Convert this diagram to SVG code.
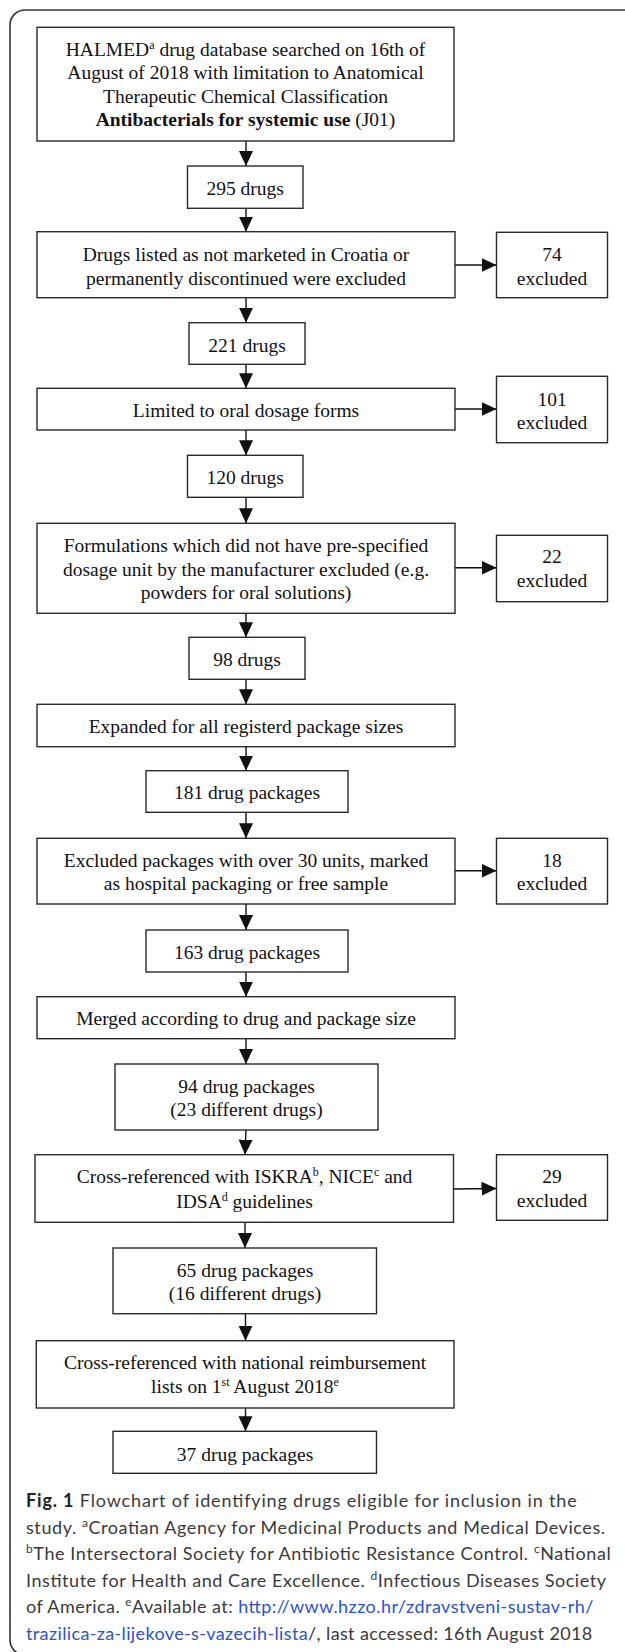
<svg xmlns="http://www.w3.org/2000/svg" width="625" height="1652" viewBox="0 0 625 1652">
<defs>
<style>
.box{fill:#fff;stroke:#2a2a2a;stroke-width:1.4}
.t{font-family:"Liberation Serif","Times New Roman",serif;font-size:19.5px;fill:#111;text-anchor:middle}
.b{font-weight:bold}
.sup{font-size:12px;baseline-shift:super}
.conn{stroke:#111;stroke-width:1.4;fill:none;marker-end:url(#ah)}
.cap{font-family:Lato,"Noto Sans",sans-serif;font-size:18px;fill:#3a3a3a}
.csup{font-size:12px;baseline-shift:super}
.link{fill:#2a52d8}
</style>
<marker id="ah" markerUnits="userSpaceOnUse" markerWidth="15" markerHeight="15" refX="15" refY="7" orient="auto">
<path d="M0,0 L15,7 L0,14 z" fill="#111"/>
</marker>
</defs>
<rect width="625" height="1652" fill="#fff"/>
<path d="M625,10 H25 A15,15 0 0 0 10,25 V1640 A15,15 0 0 0 25,1655" fill="none" stroke="#333" stroke-width="1.6"/>

<g id="connectors">
<line class="conn" x1="246" y1="141" x2="246" y2="166"/>
<line class="conn" x1="246" y1="208.3" x2="246" y2="231.7"/>
<line class="conn" x1="246" y1="297.7" x2="246" y2="322.7"/>
<line class="conn" x1="246" y1="364.3" x2="246" y2="388.3"/>
<line class="conn" x1="246" y1="430" x2="246" y2="455.3"/>
<line class="conn" x1="246" y1="497.3" x2="246" y2="523.3"/>
<line class="conn" x1="246" y1="613.3" x2="246" y2="637.3"/>
<line class="conn" x1="246" y1="679.3" x2="246" y2="704.3"/>
<line class="conn" x1="246" y1="746.7" x2="246" y2="770.7"/>
<line class="conn" x1="246" y1="812.3" x2="246" y2="838.3"/>
<line class="conn" x1="246" y1="904" x2="246" y2="930"/>
<line class="conn" x1="246" y1="972" x2="246" y2="996.7"/>
<line class="conn" x1="246" y1="1038.7" x2="246" y2="1064"/>
<line class="conn" x1="246" y1="1130" x2="245" y2="1154.7"/>
<line class="conn" x1="245" y1="1222.3" x2="245" y2="1248"/>
<line class="conn" x1="245.5" y1="1313.7" x2="245.5" y2="1340.7"/>
<line class="conn" x1="245.5" y1="1408" x2="245.5" y2="1431.3"/>
<line class="conn" x1="455" y1="265" x2="496.5" y2="265"/>
<line class="conn" x1="455" y1="409" x2="496.5" y2="409"/>
<line class="conn" x1="455" y1="567.7" x2="496.5" y2="567.7"/>
<line class="conn" x1="455" y1="870.7" x2="496.5" y2="870.7"/>
<line class="conn" x1="453.5" y1="1189" x2="496.5" y2="1188.5"/>
</g>

<g id="n1">
<rect class="box" x="37" y="27.3" width="417" height="113.7"/>
<text class="t" x="245.5" y="55.5">HALMED<tspan class="sup">a</tspan> drug database searched on 16th of</text>
<text class="t" x="245.5" y="79">August of 2018 with limitation to Anatomical</text>
<text class="t" x="245.5" y="102.5">Therapeutic Chemical Classification</text>
<text class="t" x="245.5" y="126"><tspan class="b">Antibacterials for systemic use</tspan> (J01)</text>
</g>
<g id="n2">
<rect class="box" x="187.5" y="166" width="115.5" height="42.3"/>
<text class="t" x="245.2" y="194.5">295 drugs</text>
</g>
<g id="n3">
<rect class="box" x="37" y="231.7" width="418" height="66"/>
<text class="t" x="246" y="261">Drugs listed as not marketed in Croatia or</text>
<text class="t" x="246" y="284.5">permanently discontinued were excluded</text>
</g>
<g id="e1">
<rect class="box" x="496.5" y="232.3" width="111" height="65.4"/>
<text class="t" x="552" y="261">74</text>
<text class="t" x="552" y="284.5">excluded</text>
</g>
<g id="n4">
<rect class="box" x="189" y="322.7" width="116" height="41.6"/>
<text class="t" x="247" y="351.5">221 drugs</text>
</g>
<g id="n5">
<rect class="box" x="37" y="388.3" width="418" height="41.7"/>
<text class="t" x="246" y="416.5">Limited to oral dosage forms</text>
</g>
<g id="e2">
<rect class="box" x="496.5" y="376.3" width="111" height="66.4"/>
<text class="t" x="552" y="405.5">101</text>
<text class="t" x="552" y="428.5">excluded</text>
</g>
<g id="n6">
<rect class="box" x="187.5" y="455.3" width="115.5" height="42"/>
<text class="t" x="245.2" y="484">120 drugs</text>
</g>
<g id="n7">
<rect class="box" x="37" y="523.3" width="418" height="90"/>
<text class="t" x="246" y="552">Formulations which did not have pre-specified</text>
<text class="t" x="246" y="575.5">dosage unit by the manufacturer excluded (e.g.</text>
<text class="t" x="246" y="599">powders for oral solutions)</text>
</g>
<g id="e3">
<rect class="box" x="496.5" y="535.3" width="111" height="66.4"/>
<text class="t" x="552" y="563">22</text>
<text class="t" x="552" y="586.5">excluded</text>
</g>
<g id="n8">
<rect class="box" x="189" y="637.3" width="116" height="42"/>
<text class="t" x="247" y="666">98 drugs</text>
</g>
<g id="n9">
<rect class="box" x="37" y="704.3" width="418" height="42.4"/>
<text class="t" x="246" y="733">Expanded for all registerd package sizes</text>
</g>
<g id="n10">
<rect class="box" x="146" y="770.7" width="202" height="41.6"/>
<text class="t" x="247" y="798.5">181 drug packages</text>
</g>
<g id="n11">
<rect class="box" x="37" y="838.3" width="418" height="65.7"/>
<text class="t" x="246" y="866.5">Excluded packages with over 30 units, marked</text>
<text class="t" x="246" y="890">as hospital packaging or free sample</text>
</g>
<g id="e4">
<rect class="box" x="496.5" y="838.3" width="111" height="65.7"/>
<text class="t" x="552" y="866.5">18</text>
<text class="t" x="552" y="890">excluded</text>
</g>
<g id="n12">
<rect class="box" x="146" y="930" width="202" height="42"/>
<text class="t" x="247" y="958.5">163 drug packages</text>
</g>
<g id="n13">
<rect class="box" x="37" y="996.7" width="418" height="42"/>
<text class="t" x="246" y="1025">Merged according to drug and package size</text>
</g>
<g id="n14">
<rect class="box" x="115" y="1064" width="263" height="66"/>
<text class="t" x="246.5" y="1092.5">94 drug packages</text>
<text class="t" x="246.5" y="1116">(23 different drugs)</text>
</g>
<g id="n15">
<rect class="box" x="35" y="1154.7" width="418.5" height="67.6"/>
<text class="t" x="244.5" y="1183">Cross-referenced with ISKRA<tspan class="sup">b</tspan>, NICE<tspan class="sup">c</tspan> and</text>
<text class="t" x="244.5" y="1207.5">IDSA<tspan class="sup">d</tspan> guidelines</text>
</g>
<g id="e5">
<rect class="box" x="496.5" y="1154.7" width="111" height="65.6"/>
<text class="t" x="552" y="1182.5">29</text>
<text class="t" x="552" y="1206.5">excluded</text>
</g>
<g id="n16">
<rect class="box" x="113" y="1248" width="263.5" height="65.7"/>
<text class="t" x="245" y="1276.5">65 drug packages</text>
<text class="t" x="245" y="1300">(16 different drugs)</text>
</g>
<g id="n17">
<rect class="box" x="36.3" y="1340.7" width="417.7" height="67.3"/>
<text class="t" x="245" y="1369">Cross-referenced with national reimbursement</text>
<text class="t" x="245" y="1393">lists on 1<tspan class="sup">st</tspan> August 2018<tspan class="sup">e</tspan></text>
</g>
<g id="n18">
<rect class="box" x="113" y="1431.3" width="263.5" height="42"/>
<text class="t" x="245" y="1460.5">37 drug packages</text>
</g>

<g id="caption">
<text class="cap" x="26" y="1507" textLength="550.7"><tspan font-weight="bold" fill="#222">Fig. 1</tspan> Flowchart of identifying drugs eligible for inclusion in the</text>
<text class="cap" x="26" y="1533.5" textLength="579">study. <tspan class="csup">a</tspan>Croatian Agency for Medicinal Products and Medical Devices.</text>
<text class="cap" x="26" y="1560" textLength="584.7"><tspan class="csup">b</tspan>The Intersectoral Society for Antibiotic Resistance Control. <tspan class="csup">c</tspan>National</text>
<text class="cap" x="26" y="1586.5" textLength="580">Institute for Health and Care Excellence. <tspan class="csup">d</tspan>Infectious Diseases Society</text>
<text class="cap" x="26" y="1613" textLength="567.3">of America. <tspan class="csup">e</tspan>Available at: <tspan class="link">http://www.hzzo.hr/zdravstveni-sustav-rh/</tspan></text>
<text class="cap" x="26" y="1639.5" textLength="566.3"><tspan class="link">trazilica-za-lijekove-s-vazecih-lista</tspan>/, last accessed: 16th August 2018</text>
</g>
</svg>
